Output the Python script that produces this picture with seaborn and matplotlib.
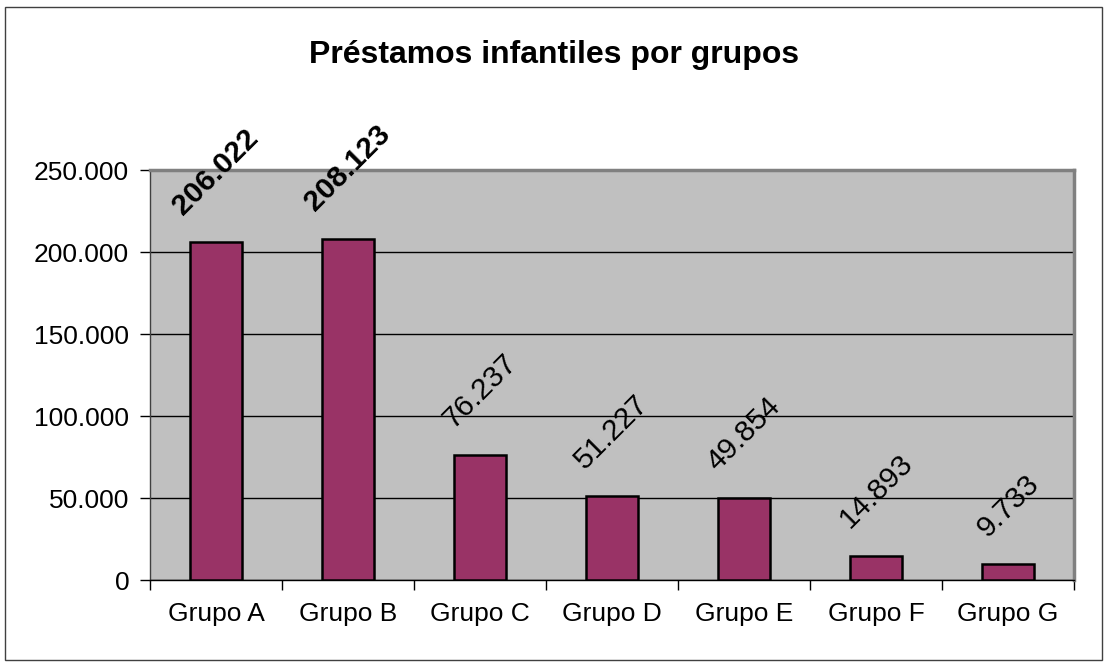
import matplotlib.pyplot as plt
import matplotlib.ticker as mticker
import pandas as pd
import seaborn as sns

grupos = ["Grupo A", "Grupo B", "Grupo C", "Grupo D", "Grupo E", "Grupo F", "Grupo G"]
prestamos = [206022, 208123, 76237, 51227, 49854, 14893, 9733]
etiquetas = ["206.022", "208.123", "76.237", "51.227", "49.854", "14.893", "9.733"]
pesos = ["bold", "bold", "normal", "normal", "normal", "normal", "normal"]

df = pd.DataFrame({"grupo": grupos, "prestamos": prestamos})

sns.set_style("white")
plt.rcParams["font.family"] = ["Liberation Sans", "DejaVu Sans"]
plt.rcParams["text.color"] = "black"
plt.rcParams["xtick.color"] = "black"
plt.rcParams["ytick.color"] = "black"

fig = plt.figure(figsize=(11.08, 6.66), dpi=100)
ax = fig.add_axes([0.1354, 0.1291, 0.9693 - 0.1354, 0.7447 - 0.1291])
ax.set_facecolor("#C0C0C0")

sns.barplot(
    data=df, x="grupo", y="prestamos", ax=ax,
    color="#993366", edgecolor="black", linewidth=1.8, width=0.4,
    saturation=1, zorder=3,
)

ax.set_xlim(-0.5, len(grupos) - 0.5)
ax.set_ylim(0, 250000)
ax.yaxis.set_major_locator(mticker.MultipleLocator(50000))
ax.yaxis.set_major_formatter(
    mticker.FuncFormatter(lambda v, p: f"{int(v):,}".replace(",", "."))
)
ax.grid(axis="y", color="black", linewidth=1, zorder=1)
ax.set_axisbelow(True)

# ticks entre categorias, como en Excel
ax.set_xticks([i - 0.5 for i in range(len(grupos) + 1)], minor=True)
ax.tick_params(axis="x", which="major", length=0, pad=16, labelsize=19)
ax.tick_params(axis="x", which="minor", length=7, width=1, color="black", direction="out")
ax.tick_params(axis="y", length=7, width=1, color="black", direction="out", pad=8, labelsize=19)
ax.tick_params(left=True, bottom=True, which="both")
ax.set_xlabel("")
ax.set_ylabel("")

for s in ["top", "right"]:
    ax.spines[s].set_color("#808080")
    ax.spines[s].set_linewidth(2.5)
ax.spines["left"].set_color("#404040")
ax.spines["bottom"].set_color("black")
ax.spines["left"].set_linewidth(1)
ax.spines["bottom"].set_linewidth(1)

for i, (v, t, w) in enumerate(zip(prestamos, etiquetas, pesos)):
    ax.annotate(
        t, (i, v), xytext=(0, 16), textcoords="offset points",
        rotation=45, ha="center", va="bottom", fontsize=21.5, fontweight=w,
        color="black", zorder=5,
    )

fig.text(0.5, 0.917, "Préstamos infantiles por grupos", ha="center", va="center",
         fontsize=23, fontweight="bold", color="black")

fig.patches.append(plt.Rectangle((5 / 1108, 6 / 666), 1097 / 1108, 653 / 666,
                                 transform=fig.transFigure, fill=False,
                                 edgecolor="#404040", linewidth=1))

plt.savefig("out.png", dpi=100)
